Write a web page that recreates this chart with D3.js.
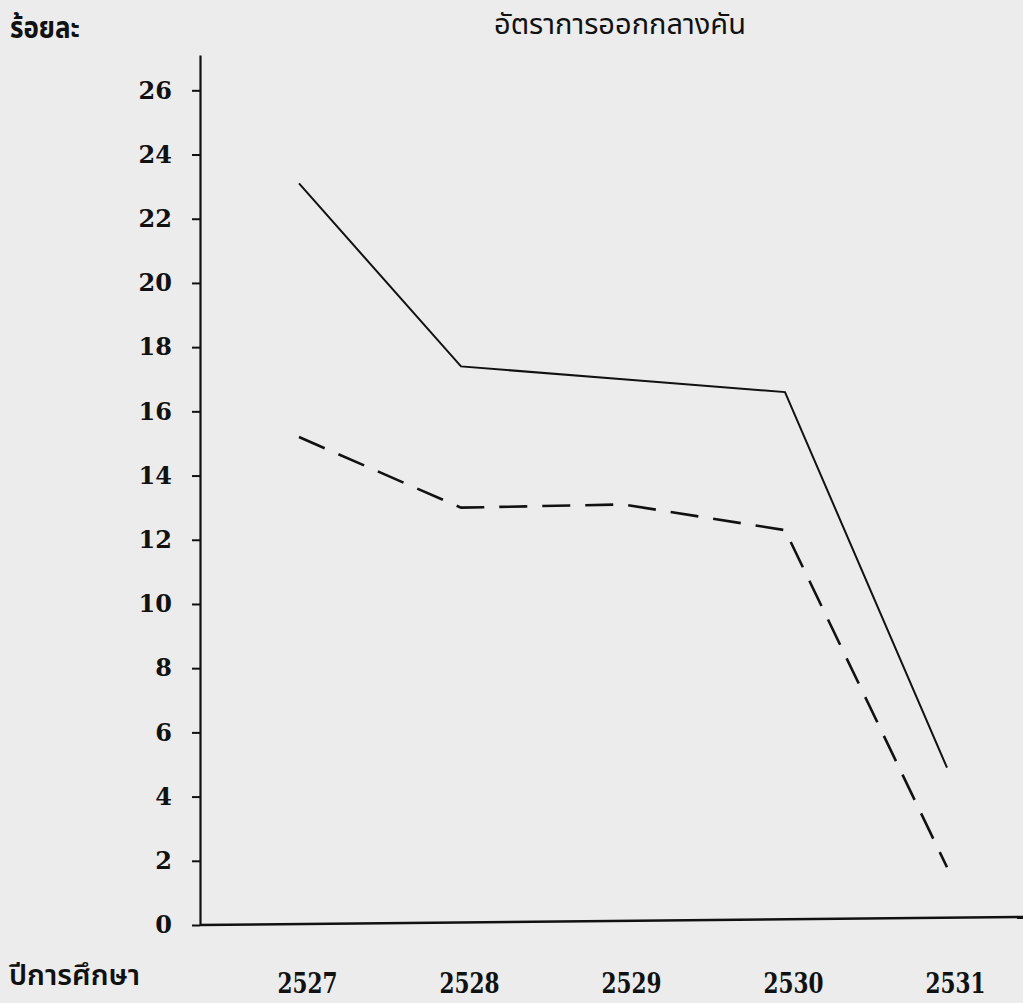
<!DOCTYPE html>
<html>
<head>
<meta charset="utf-8">
<script src="https://cdn.jsdelivr.net/npm/d3@7"></script>
<style>
  html, body { margin: 0; padding: 0; background: #ececec; }
  svg { display: block; }
</style>
</head>
<body>
<svg id="chart" width="1023" height="1003"></svg>
<script>
const years = [2527, 2528, 2529, 2530, 2531];
const seriesSolid = [23.1, 17.4, 17.0, 16.6, 4.9];
const seriesDashed = [15.2, 13.0, 13.1, 12.3, 1.8];
const yTicks = [0, 2, 4, 6, 8, 10, 12, 14, 16, 18, 20, 22, 24, 26];
const title = "อัตราการออกกลางคัน";
const yLabel = "ร้อยละ";
const xLabel = "ปีการศึกษา";

const W = 1023, H = 1003;
const svg = d3.select("#chart");
svg.append("rect").attr("width", W).attr("height", H).attr("fill", "#ececec");

const axisX = 200, baseY = 925;
const y = d3.scaleLinear().domain([0, 27.1]).range([baseY, 55]);
const x = d3.scaleLinear().domain([2527, 2531]).range([299, 947]);

const thaiFont = "'Noto Sans Thai', 'Noto Sans', 'DejaVu Sans', sans-serif";
const digitFont = "'DejaVu Serif', 'Liberation Serif', serif";

// y axis
const yAxis = d3.axisLeft(y).tickValues(yTicks).tickSize(8).tickSizeOuter(0).tickPadding(20)
  .tickFormat(d3.format("d"));
const gy = svg.append("g").attr("transform", `translate(${axisX},0)`).call(yAxis);
gy.select(".domain").attr("stroke", "#111").attr("stroke-width", 2.2);
gy.selectAll(".tick line").attr("stroke", "#111").attr("stroke-width", 2);
gy.selectAll(".tick text")
  .attr("fill", "#111")
  .attr("font-family", digitFont)
  .attr("font-weight", "bold")
  .attr("font-size", 24);

// x axis baseline
svg.append("line")
  .attr("x1", axisX).attr("x2", W)
  .attr("y1", y(0)).attr("y2", y(0) - 8)
  .attr("stroke", "#111").attr("stroke-width", 2.6);

// x labels
const xAxis = d3.axisBottom(x).tickValues(years).tickSize(0).tickFormat(d3.format("d"));
const gx = svg.append("g").attr("transform", `translate(0,${baseY})`).call(xAxis);
gx.select(".domain").remove();
gx.selectAll(".tick text")
  .attr("y", 0).attr("dy", 0)
  .attr("transform", "translate(8,68) scale(1,1.2)")
  .attr("fill", "#111")
  .attr("font-family", "'DejaVu Serif Condensed', 'DejaVu Serif', serif")
  .attr("font-stretch", "condensed")
  .attr("font-weight", "bold")
  .attr("font-size", 24);

// lines
const line = d3.line().x((d, i) => x(years[i])).y(d => y(d));
svg.append("path").datum(seriesSolid)
  .attr("d", line).attr("fill", "none")
  .attr("stroke", "#111").attr("stroke-width", 2);
svg.append("path").datum(seriesDashed)
  .attr("d", line).attr("fill", "none")
  .attr("stroke", "#111").attr("stroke-width", 2.6)
  .attr("stroke-dasharray", "28,15");

// texts
svg.append("text").text(yLabel)
  .attr("transform", "translate(10,38) scale(1,1.15)")
  .attr("font-family", thaiFont).attr("font-weight", "bold").attr("font-size", 26)
  .attr("fill", "#111");
svg.append("text").text(title)
  .attr("x", 620).attr("y", 34).attr("text-anchor", "middle")
  .attr("font-family", thaiFont).attr("font-size", 29)
  .attr("fill", "#111");
svg.append("text").text(xLabel)
  .attr("x", 9).attr("y", 985)
  .attr("font-family", thaiFont).attr("font-weight", 600).attr("font-size", 29)
  .attr("fill", "#111");
</script>
</body>
</html>
